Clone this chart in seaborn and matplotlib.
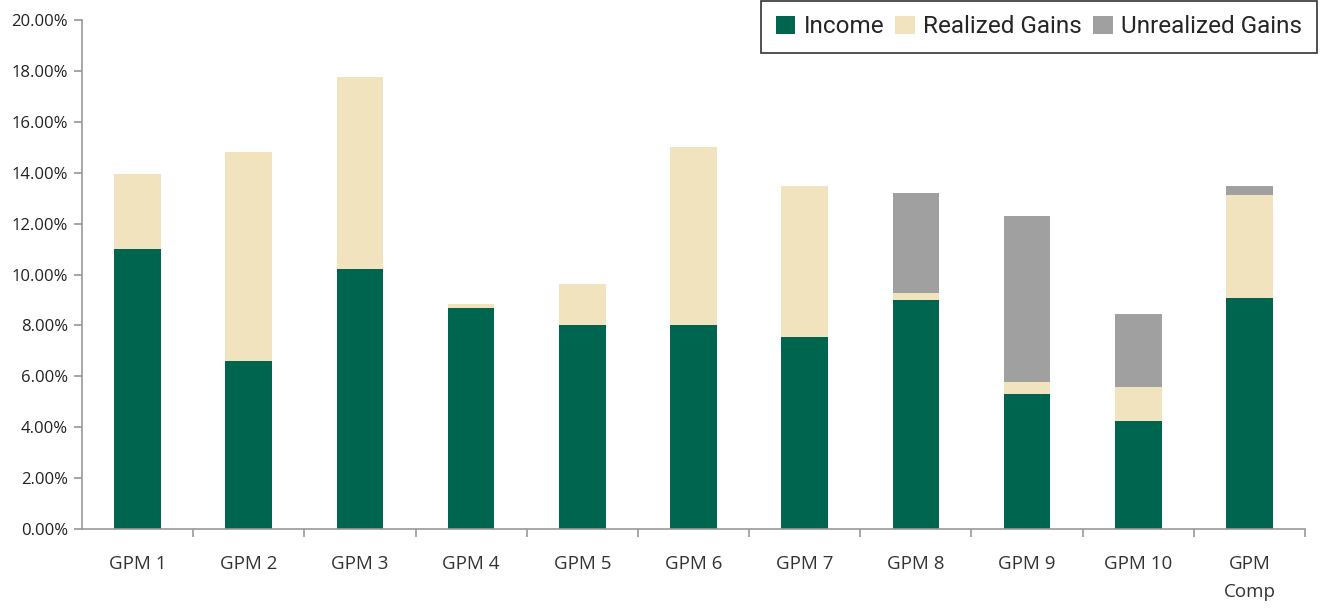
import matplotlib
matplotlib.use('Agg')
import matplotlib.pyplot as plt
import seaborn as sns
import numpy as np
import pandas as pd
from matplotlib.ticker import PercentFormatter, FixedLocator
from matplotlib.patches import Patch

managers = ["GPM 1", "GPM 2", "GPM 3", "GPM 4", "GPM 5", "GPM 6",
            "GPM 7", "GPM 8", "GPM 9", "GPM 10", "GPM\nComp"]
income = [11.0, 6.6, 10.22, 8.68, 8.02, 8.02, 7.54, 9.0, 5.3, 4.24, 9.08]
realized = [2.95, 8.21, 7.54, 0.16, 1.61, 6.99, 5.94, 0.27, 0.48, 1.34, 4.04]
unrealized = [0.0, 0.0, 0.0, 0.0, 0.0, 0.0, 0.0, 3.93, 6.52, 2.87, 0.36]

colors = {"Income": "#00654F", "Realized Gains": "#F2E3BF", "Unrealized Gains": "#A0A0A0"}

sns.set_theme(style="white")
plt.rcParams["font.family"] = ["Open Sans", "DejaVu Sans"]

df = pd.DataFrame({"manager": managers, "Income": income,
                   "Realized Gains": realized, "Unrealized Gains": unrealized})

fig = plt.figure(figsize=(13.28, 6.08), dpi=100)
ax = fig.add_axes([0.0617, 0.13, 0.921, 0.837])

bottom = np.zeros(len(managers))
for col in ["Income", "Realized Gains", "Unrealized Gains"]:
    sns.barplot(data=df, x="manager", y=col, color=colors[col], width=0.42,
                bottom=bottom, ax=ax, saturation=1, linewidth=0)
    bottom = bottom + df[col].values

ax.set_ylim(0, 20)
ax.set_xlim(-0.5, len(managers) - 0.5)
ax.set_yticks(np.arange(0, 20.01, 2))
ax.yaxis.set_major_formatter(PercentFormatter(decimals=2))
ax.set_xlabel("")
ax.set_ylabel("")

for s in ["top", "right"]:
    ax.spines[s].set_visible(False)
for s in ["left", "bottom"]:
    ax.spines[s].set_color("#999999")
    ax.spines[s].set_linewidth(1.2)

ax.tick_params(axis="y", which="major", left=True, length=6, color="#999999",
               labelsize=12, labelcolor="#222222", pad=4)
ax.tick_params(axis="x", which="major", bottom=False, labelsize=13.5,
               labelcolor="#333333", pad=13)
for lbl in ax.get_xticklabels():
    lbl.set_linespacing(1.7)
ax.xaxis.set_minor_locator(FixedLocator(np.arange(0.5, len(managers), 1.0)))
ax.tick_params(axis="x", which="minor", bottom=True, length=6, color="#999999",
               width=1.2)
ax.grid(False)

handles = [Patch(facecolor=c, edgecolor="none", label=k) for k, c in colors.items()]
leg = ax.legend(handles=handles, loc="upper right", bbox_to_anchor=(1.0095, 1.038),
                ncol=3, frameon=True, fancybox=False,
                prop={"family": ["Roboto", "DejaVu Sans"], "size": 17.5},
                handlelength=0.8, handleheight=0.8, handletextpad=0.35,
                columnspacing=0.45, borderpad=0.6, borderaxespad=0)
leg.get_frame().set_edgecolor("#000000")
leg.get_frame().set_linewidth(1.2)

fig.savefig("out.png", dpi=100)
